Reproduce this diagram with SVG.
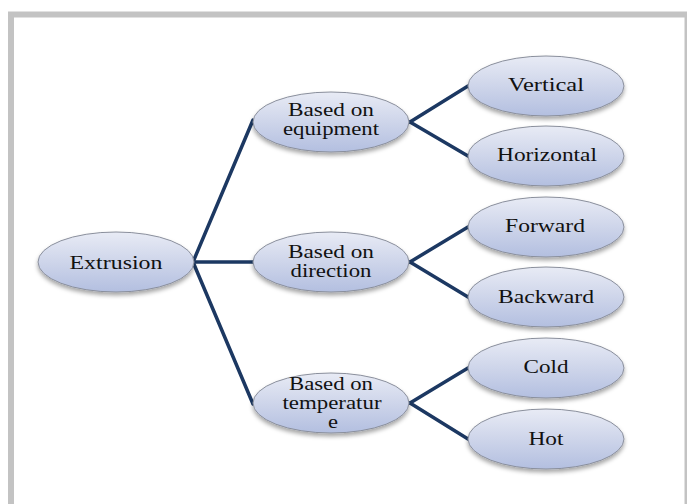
<svg xmlns="http://www.w3.org/2000/svg" width="687" height="504" viewBox="0 0 687 504">
<defs>
<linearGradient id="g" x1="0" y1="0" x2="0" y2="1">
<stop offset="0" stop-color="#e8ebf5"/>
<stop offset="0.5" stop-color="#ced5ea"/>
<stop offset="1" stop-color="#b3bfe0"/>
</linearGradient>
<filter id="sh" x="-20%" y="-30%" width="140%" height="170%">
<feDropShadow dx="0" dy="3" stdDeviation="2" flood-color="#000" flood-opacity="0.35"/>
</filter>
</defs>
<style>
.n ellipse{fill:url(#g);stroke:#8a8f9c;stroke-width:1;filter:url(#sh)}
.n text{font-family:'Liberation Serif','DejaVu Serif',serif;font-size:18px;fill:#111;text-anchor:middle}
.c line{stroke:#1c3862;stroke-width:3.5;stroke-linecap:round}
</style>
<rect x="0" y="0" width="687" height="504" fill="#fff"/>
<path d="M11 504 V14.5 H687" fill="none" stroke="#c3c3c3" stroke-width="6"/>
<path d="M686 14 V504" stroke="#c3c3c3" stroke-width="3"/>
<g class="c" id="connectors">
<line x1="193" y1="262" x2="253" y2="120"/>
<line x1="193" y1="262" x2="253" y2="262"/>
<line x1="193" y1="262" x2="253" y2="404"/>
<line x1="410" y1="122" x2="468" y2="86"/>
<line x1="410" y1="122" x2="468" y2="156"/>
<line x1="410" y1="262" x2="468" y2="227"/>
<line x1="410" y1="262" x2="468" y2="297"/>
<line x1="410" y1="403" x2="468" y2="368"/>
<line x1="410" y1="403" x2="468" y2="439"/>
</g>
<g class="n" id="extrusion"><ellipse cx="116" cy="262" rx="78" ry="30"/><text x="116" y="269" textLength="93" lengthAdjust="spacingAndGlyphs">Extrusion</text></g>
<g class="n" id="equipment"><ellipse cx="331" cy="122" rx="78" ry="30"/><text x="331" y="116" textLength="86" lengthAdjust="spacingAndGlyphs">Based on</text><text x="331" y="135" textLength="96" lengthAdjust="spacingAndGlyphs">equipment</text></g>
<g class="n" id="direction"><ellipse cx="331" cy="262" rx="78" ry="30"/><text x="331" y="258" textLength="86" lengthAdjust="spacingAndGlyphs">Based on</text><text x="331" y="277" textLength="81" lengthAdjust="spacingAndGlyphs">direction</text></g>
<g class="n" id="temperature"><ellipse cx="331" cy="403" rx="78" ry="30"/><text x="331" y="390" textLength="84" lengthAdjust="spacingAndGlyphs">Based on</text><text x="332" y="409" textLength="99" lengthAdjust="spacingAndGlyphs">temperatur</text><text x="333" y="428" textLength="10" lengthAdjust="spacingAndGlyphs">e</text></g>
<g class="n" id="vertical"><ellipse cx="546" cy="86" rx="78" ry="30"/><text x="546" y="91" textLength="76" lengthAdjust="spacingAndGlyphs">Vertical</text></g>
<g class="n" id="horizontal"><ellipse cx="546" cy="156" rx="78" ry="30"/><text x="547" y="161" textLength="100" lengthAdjust="spacingAndGlyphs">Horizontal</text></g>
<g class="n" id="forward"><ellipse cx="546" cy="227" rx="78" ry="30"/><text x="545" y="232" textLength="80" lengthAdjust="spacingAndGlyphs">Forward</text></g>
<g class="n" id="backward"><ellipse cx="546" cy="297" rx="78" ry="30"/><text x="546" y="303" textLength="96" lengthAdjust="spacingAndGlyphs">Backward</text></g>
<g class="n" id="cold"><ellipse cx="546" cy="368" rx="78" ry="30"/><text x="546" y="373" textLength="45" lengthAdjust="spacingAndGlyphs">Cold</text></g>
<g class="n" id="hot"><ellipse cx="546" cy="439" rx="78" ry="30"/><text x="546" y="445" textLength="35" lengthAdjust="spacingAndGlyphs">Hot</text></g>
</svg>
